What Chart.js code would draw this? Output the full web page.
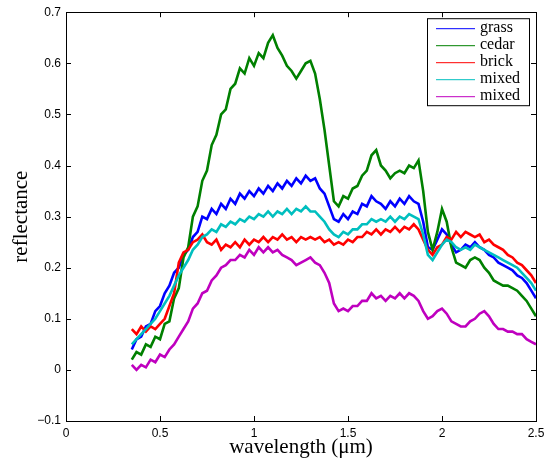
<!DOCTYPE html>
<html>
<head>
<meta charset="utf-8">
<script src="https://cdn.jsdelivr.net/npm/chart.js@4.4.1/dist/chart.umd.min.js"></script>
<style>
  html, body { margin: 0; padding: 0; background: #fff; }
  #wrap { width: 551px; height: 461px; position: relative; }
</style>
</head>
<body>
<div id="wrap"><canvas id="spectraChart"></canvas></div>
<script>
const wavelength = [
  0.35, 0.375, 0.4, 0.425, 0.45, 0.475, 0.5, 0.525, 0.55, 0.575,
  0.6, 0.625, 0.65, 0.675, 0.7, 0.725, 0.75, 0.775, 0.8, 0.825,
  0.85, 0.875, 0.9, 0.925, 0.95, 0.975, 1.0, 1.025, 1.05, 1.075,
  1.1, 1.125, 1.15, 1.175, 1.2, 1.225, 1.25, 1.275, 1.3, 1.325,
  1.35, 1.375, 1.4, 1.425, 1.45, 1.475, 1.5, 1.525, 1.55, 1.575,
  1.6, 1.625, 1.65, 1.675, 1.7, 1.725, 1.75, 1.775, 1.8, 1.825,
  1.85, 1.875, 1.9, 1.925, 1.95, 1.975, 2.0, 2.025, 2.05, 2.075,
  2.1, 2.125, 2.15, 2.175, 2.2, 2.225, 2.25, 2.275, 2.3, 2.325,
  2.35, 2.375, 2.4, 2.425, 2.45, 2.475, 2.5
];

const grass = [
  0.04, 0.06, 0.065, 0.085, 0.09, 0.115, 0.125, 0.15, 0.165, 0.19,
  0.20, 0.225, 0.235, 0.26, 0.27, 0.30, 0.295, 0.315, 0.305, 0.325,
  0.315, 0.335, 0.325, 0.345, 0.335, 0.35, 0.34, 0.355, 0.345, 0.36,
  0.35, 0.365, 0.355, 0.37, 0.36, 0.375, 0.365, 0.38, 0.37, 0.375,
  0.355, 0.345, 0.32, 0.295, 0.29, 0.305, 0.295, 0.31, 0.305, 0.325,
  0.32, 0.34, 0.33, 0.325, 0.315, 0.33, 0.32, 0.335, 0.325, 0.34,
  0.33, 0.325, 0.29, 0.24, 0.235, 0.255, 0.275, 0.265, 0.245, 0.23,
  0.235, 0.245, 0.24, 0.25, 0.24, 0.235, 0.225, 0.22, 0.21, 0.205,
  0.20, 0.195, 0.185, 0.18, 0.17, 0.155, 0.14
];

const cedar = [
  0.02, 0.035, 0.03, 0.05, 0.045, 0.065, 0.06, 0.09, 0.095, 0.14,
  0.16, 0.22, 0.24, 0.30, 0.32, 0.37, 0.39, 0.44, 0.46, 0.50,
  0.51, 0.55, 0.56, 0.59, 0.58, 0.61, 0.595, 0.62, 0.61, 0.64,
  0.655, 0.63, 0.615, 0.595, 0.585, 0.57, 0.585, 0.60, 0.605, 0.58,
  0.53, 0.47, 0.40, 0.33, 0.32, 0.34, 0.335, 0.355, 0.36, 0.38,
  0.39, 0.42, 0.43, 0.40, 0.39, 0.375, 0.385, 0.39, 0.385, 0.40,
  0.395, 0.41, 0.35, 0.27, 0.235, 0.27, 0.315, 0.29, 0.24, 0.21,
  0.205, 0.20, 0.215, 0.22, 0.215, 0.20, 0.19, 0.175, 0.17, 0.165,
  0.165, 0.16, 0.155, 0.145, 0.135, 0.12, 0.105
];

const brick = [
  0.08, 0.07, 0.085, 0.075, 0.085, 0.08, 0.09, 0.10, 0.125, 0.15,
  0.21, 0.23, 0.235, 0.25, 0.255, 0.265, 0.25, 0.245, 0.255, 0.235,
  0.245, 0.24, 0.25, 0.24, 0.255, 0.245, 0.255, 0.25, 0.26, 0.25,
  0.26, 0.255, 0.265, 0.255, 0.26, 0.25, 0.26, 0.255, 0.26, 0.255,
  0.26, 0.25, 0.255, 0.245, 0.25, 0.245, 0.255, 0.25, 0.26, 0.26,
  0.27, 0.265, 0.275, 0.265, 0.275, 0.27, 0.28, 0.27, 0.28, 0.275,
  0.285, 0.275, 0.255, 0.235, 0.225, 0.24, 0.245, 0.26, 0.255, 0.27,
  0.26, 0.27, 0.265, 0.26, 0.265, 0.25, 0.255, 0.245, 0.24, 0.235,
  0.225, 0.22, 0.21, 0.205, 0.195, 0.185, 0.17
];

const mixed1 = [
  0.05, 0.06, 0.07, 0.08, 0.09, 0.10, 0.115, 0.13, 0.145, 0.165,
  0.185, 0.20, 0.215, 0.235, 0.245, 0.26, 0.265, 0.275, 0.27, 0.285,
  0.28, 0.29, 0.285, 0.295, 0.29, 0.30, 0.295, 0.305, 0.30, 0.31,
  0.30, 0.31, 0.305, 0.315, 0.305, 0.315, 0.31, 0.32, 0.31, 0.31,
  0.30, 0.29, 0.275, 0.265, 0.26, 0.27, 0.265, 0.275, 0.275, 0.285,
  0.285, 0.295, 0.29, 0.295, 0.29, 0.30, 0.29, 0.30, 0.295, 0.305,
  0.30, 0.295, 0.265, 0.225, 0.215, 0.23, 0.245, 0.255, 0.25, 0.24,
  0.235, 0.24, 0.235, 0.245, 0.24, 0.235, 0.23, 0.225, 0.22, 0.215,
  0.21, 0.205, 0.20, 0.19, 0.18, 0.17, 0.155
];

const mixed2 = [
  0.01, 0.0, 0.01, 0.005, 0.02, 0.015, 0.03, 0.025, 0.04, 0.05,
  0.065, 0.08, 0.095, 0.12, 0.13, 0.15, 0.155, 0.175, 0.185, 0.20,
  0.205, 0.215, 0.215, 0.225, 0.22, 0.235, 0.225, 0.24, 0.23, 0.24,
  0.23, 0.235, 0.225, 0.22, 0.215, 0.205, 0.21, 0.215, 0.22, 0.21,
  0.205, 0.19, 0.17, 0.13, 0.115, 0.12, 0.115, 0.125, 0.125, 0.135,
  0.135, 0.15, 0.14, 0.145, 0.135, 0.145, 0.14, 0.15, 0.14, 0.15,
  0.145, 0.135, 0.115, 0.10, 0.105, 0.115, 0.12, 0.11, 0.095, 0.09,
  0.085, 0.085, 0.095, 0.10, 0.11, 0.115, 0.105, 0.09, 0.08, 0.08,
  0.075, 0.075, 0.07, 0.07, 0.06, 0.055, 0.05
];

const xTicks = [0, 0.5, 1, 1.5, 2, 2.5];
const yTicks = [-0.1, 0, 0.1, 0.2, 0.3, 0.4, 0.5, 0.6, 0.7];

function toPoints(values) {
  return values.map((v, i) => ({ x: wavelength[i], y: v }));
}

function series(label, values, color, order) {
  return {
    label: label,
    data: toPoints(values),
    borderColor: color,
    backgroundColor: color,
    borderWidth: 2.6,
    pointRadius: 0,
    tension: 0,
    order: order,
  };
}

// matlab style box with inward ticks on all four sides
const boxTicks = {
  id: "boxTicks",
  afterDatasetsDraw(chart) {
    const { ctx, chartArea: a, scales } = chart;
    ctx.save();
    ctx.strokeStyle = "#000";
    ctx.lineWidth = 1;
    const len = 5;
    ctx.beginPath();
    xTicks.forEach((t) => {
      const px = Math.round(scales.x.getPixelForValue(t)) + 0.5;
      ctx.moveTo(px, a.bottom);
      ctx.lineTo(px, a.bottom - len);
      ctx.moveTo(px, a.top);
      ctx.lineTo(px, a.top + len);
    });
    yTicks.forEach((t) => {
      const py = Math.round(scales.y.getPixelForValue(t)) + 0.5;
      ctx.moveTo(a.left, py);
      ctx.lineTo(a.left + len, py);
      ctx.moveTo(a.right, py);
      ctx.lineTo(a.right - len, py);
    });
    ctx.stroke();
    ctx.strokeRect(Math.round(a.left) + 0.5, Math.round(a.top) + 0.5,
      Math.round(a.right - a.left), Math.round(a.bottom - a.top));
    ctx.restore();
  },
};

// legend box in the upper right corner of the axes
const boxLegend = {
  id: "boxLegend",
  afterDraw(chart) {
    const { ctx, chartArea: a } = chart;
    const w = 102, h = 87;
    const x0 = a.right - 7 - w, y0 = a.top + 6;
    ctx.save();
    ctx.fillStyle = "#fff";
    ctx.fillRect(x0, y0, w, h);
    ctx.strokeStyle = "#000";
    ctx.lineWidth = 1;
    ctx.strokeRect(x0 + 0.5, y0 + 0.5, w, h);
    ctx.font = '16px "Liberation Serif", "Times New Roman", serif';
    ctx.textBaseline = "middle";
    chart.data.datasets.forEach((ds, i) => {
      const y = y0 + 10.5 + i * 17;
      ctx.strokeStyle = ds.borderColor;
      ctx.lineWidth = 1;
      ctx.beginPath();
      ctx.moveTo(x0 + 9, y);
      ctx.lineTo(x0 + 48, y);
      ctx.stroke();
      ctx.fillStyle = "#000";
      ctx.fillText(ds.label, x0 + 53, y - 1);
    });
    ctx.restore();
  },
};

const spectraCtx = document.getElementById("spectraChart");
new Chart(spectraCtx, {
  type: "line",
  data: {
    datasets: [
      series("grass", grass, "#0000ff", 5),
      series("cedar", cedar, "#008000", 4),
      series("brick", brick, "#ff0000", 3),
      series("mixed", mixed1, "#00bfbf", 2),
      series("mixed", mixed2, "#bf00bf", 1),
    ],
  },
  options: {
    responsive: true,
    maintainAspectRatio: false,
    animation: false,
    layout: { padding: { left: 0, right: 15, top: 11, bottom: 0 } },
    plugins: {
      legend: { display: false },
      tooltip: { enabled: false },
    },
    scales: {
      x: {
        type: "linear",
        min: 0,
        max: 2.5,
        afterBuildTicks(scale) {
          scale.ticks = xTicks.map((v) => ({ value: v }));
        },
        ticks: {
          color: "#000",
          padding: 5,
          font: { family: '"Liberation Sans", Arial, sans-serif', size: 12 },
          callback: (v) => String(v),
        },
        grid: { display: false, drawTicks: false },
        border: { display: true, color: "#000" },
        title: {
          display: true,
          text: "wavelength (\u03bcm)",
          color: "#000",
          font: { family: '"Liberation Serif", "Times New Roman", serif', size: 21 },
          padding: { top: 0, bottom: 1 },
        },
        afterFit(scale) { scale.height = 40; },
      },
      y: {
        min: -0.1,
        max: 0.7,
        afterBuildTicks(scale) {
          scale.ticks = yTicks.map((v) => ({ value: v }));
        },
        ticks: {
          color: "#000",
          padding: 5,
          font: { family: '"Liberation Sans", Arial, sans-serif', size: 12 },
          callback: (v) => {
            const r = Math.round(v * 10) / 10;
            return r < 0 ? "\u2212" + String(-r) : String(r);
          },
        },
        grid: { display: false, drawTicks: false },
        border: { display: true, color: "#000" },
        title: {
          display: true,
          text: "reflectance",
          color: "#000",
          font: { family: '"Liberation Serif", "Times New Roman", serif', size: 21 },
          padding: { top: 9, bottom: 8 },
        },
        afterFit(scale) { scale.width = 66; },
      },
    },
  },
  plugins: [boxTicks, boxLegend],
});
</script>
</body>
</html>
